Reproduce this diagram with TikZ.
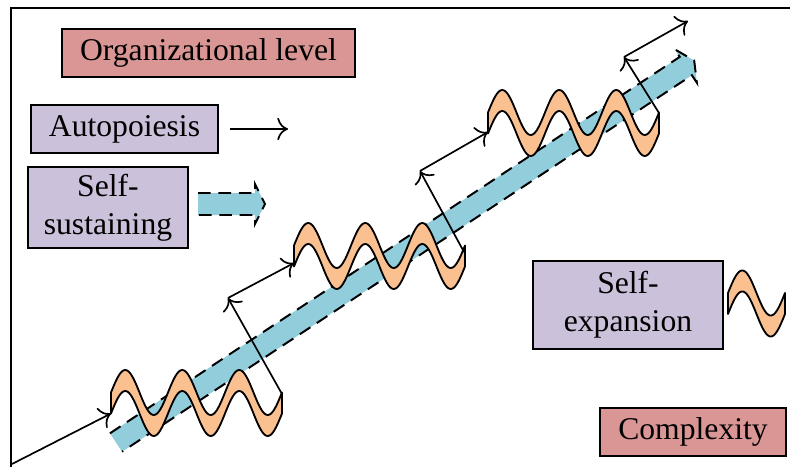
\documentclass[tikz,border=0pt]{standalone}
\usepackage{fontspec}
\setmainfont{Liberation Serif}
\usepackage{tikz}
\usetikzlibrary{arrows.meta,calc}
\definecolor{lvlred}{RGB}{217,150,148}
\definecolor{keyvio}{RGB}{204,193,218}
\definecolor{sustblue}{RGB}{146,205,220}
\definecolor{expor}{RGB}{250,192,144}

% ribbon of self-expansion: #1 left x, #2 mid y, #3 periods
\newcommand{\wavestrip}[3]{%
  \filldraw[wave] plot[domain=0:#3*57,samples=121] ({#1+\x},{#2-22.5*sin(\x/57*360)})
    -- plot[domain=#3*57:0,samples=121] ({#1+\x},{#2+21-22.5*sin(\x/57*360)}) -- cycle;}
% self-sustaining band: #1 start, #2 angle, #3 length
\newcommand{\sustarrow}[3]{%
  \begin{scope}[shift={#1},rotate=#2]
    \fill[sustblue] (0,-11) -- (#3,-11) -- (#3,-20) -- (#3+10,0) -- (#3,20) -- (#3,11) -- (0,11) -- cycle;
    \draw[bandedge] (0,-11) -- (#3,-11) -- (#3,-20) -- (#3+10,0) -- (#3,20) -- (#3,11) -- (0,11);
  \end{scope}}

\begin{document}
\begin{tikzpicture}[x=0.025cm,y=-0.025cm,
  txt/.style={font=\fontsize{22.5pt}{27pt}\selectfont},
  lvlbox/.style={txt,draw,line width=1.4pt,fill=lvlred,minimum height=1.2cm,inner xsep=0.45cm},
  keybox/.style={txt,draw,line width=1.4pt,fill=keyvio,align=center},
  wave/.style={fill=expor,draw=black,line width=1.3pt,line join=round},
  bandedge/.style={line width=1.4pt,dash pattern=on 9pt off 5.5pt},
  stepln/.style={line width=1.2pt,-{To[scale=1.8]}},
  frameln/.style={line width=1.6pt}]
\useasboundingbox (0,0) rectangle (790,467);

% axes
\draw[frameln] (11,467) -- (11,8) -- (790,8);

% labels
\node[lvlbox] (orglvl) at (208.5,53) {Organizational level};
\node[keybox,minimum height=1.2cm,inner xsep=0.45cm] (autop) at (124.5,129) {Autopoiesis};
\node[keybox,minimum width=4cm,minimum height=2.025cm] (selfsus) at (108,207.5) {Self-\\sustaining};
\node[keybox,minimum width=4.75cm,minimum height=2.2cm] (selfexp) at (628,305) {Self-\\expansion};
\node[lvlbox] (cmplx) at (693,432) {Complexity};

% legend marks
\coordinate (autotip) at (288,129);
\draw[stepln] ([xshift=0.27cm]autop.east) -- (autotip);
\sustarrow{(198,204)}{0}{57}
\wavestrip{728}{293}{1}

% self-sustaining band
\sustarrow{(116,442.5)}{33.45}{683}

% three stages of self-expansion
\wavestrip{111}{392.5}{3}
\wavestrip{294}{245.5}{3}
\wavestrip{488}{112.5}{3}

% autopoiesis steps
\coordinate (base) at (12,464);
\coordinate (w1in) at (111,413.5);
\coordinate (w1out) at (282,394);
\coordinate (k1) at (228,298);
\coordinate (w2in) at (294,263);
\coordinate (w2out) at (464,252);
\coordinate (k2) at (420,171);
\coordinate (w3in) at (488,132);
\coordinate (w3out) at (659,113);
\coordinate (k3) at (624,57);
\coordinate (topend) at (688,21);
\draw[stepln] (base) -- (w1in);
\draw[stepln] (w1out) -- (k1);
\draw[stepln] (k1) -- (w2in);
\draw[stepln] (w2out) -- (k2);
\draw[stepln] (k2) -- (w3in);
\draw[stepln] (w3out) -- (k3);
\draw[stepln] (k3) -- (topend);

\end{tikzpicture}
\end{document}
